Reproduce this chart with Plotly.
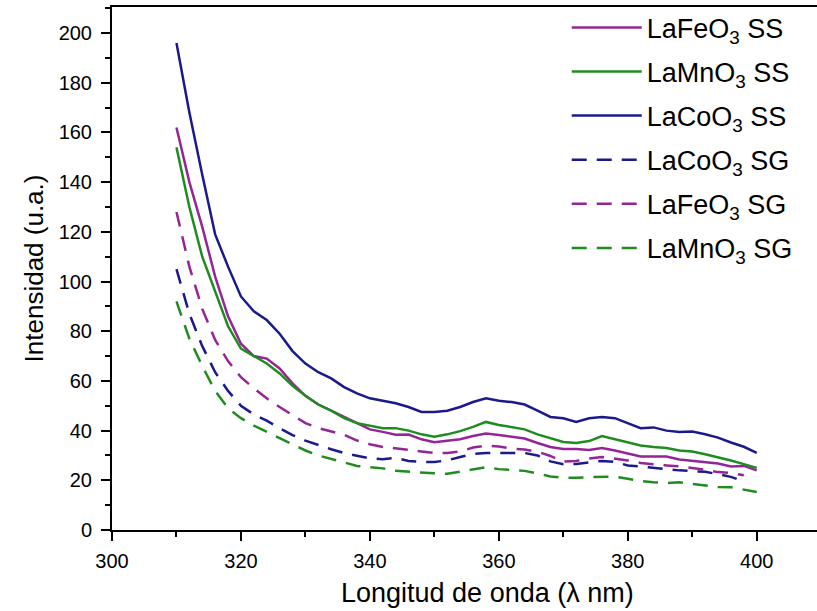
import plotly.graph_objects as go

wl = list(range(310, 401, 2))
wl_short = list(range(310, 399, 2))

lafeo3_ss = [162, 140, 122, 102, 86, 75, 70, 69, 65, 59, 54, 50.5, 48, 45.5, 43, 40.5,
             39.5, 38.3, 38.4, 36.5, 35.3, 36, 36.5, 37.8, 38.8, 38.2, 37.5, 36.8, 35,
             33.4, 32.6, 32.6, 32.2, 33, 32, 30.8, 29.6, 29.6, 29.6, 28.4, 27.9, 27.6,
             26.8, 25.6, 25.8, 24]
lamno3_ss = [154, 130, 110, 96, 82, 73, 70, 67, 63, 58, 54, 50.5, 48, 45, 43, 42, 41, 41,
             40, 38.5, 37.5, 38.5, 39.8, 41.5, 43.5, 42.3, 41.5, 40.5, 38.5, 37, 35.4, 35,
             35.8, 37.8, 36.6, 35.5, 34, 33.4, 33, 32, 31.6, 30.5, 29.3, 28, 26.5, 25]
lacoo3_ss = [196, 168, 143, 119, 106, 94, 88, 84.5, 79, 72, 67, 63.5, 61, 57.5, 55, 53,
             52, 51, 49.5, 47.5, 47.5, 48, 49.5, 51.5, 53, 52, 51.5, 50.5, 48, 45.5, 45,
             43.5, 45, 45.5, 45, 43, 41, 41.3, 40, 39.4, 39.6, 38.5, 37.2, 35.2, 33.5, 31]
lacoo3_sg = [105, 87, 74, 63.5, 56, 50, 46.5, 44, 41, 38.2, 36, 34.2, 32.5, 31, 29.8,
             28.8, 28.5, 29, 27.8, 27.4, 27.4, 28, 29.4, 30.6, 31, 31, 31, 31, 30, 27.6,
             26.5, 26.6, 27.2, 27.8, 27.4, 26, 25.6, 25.2, 24.5, 24, 23.8, 23.4, 22.5,
             21.4, 19.5]
lafeo3_sg = [128, 106, 89, 76.5, 68, 61.5, 57, 53, 49.5, 46.3, 43, 41, 39.5, 38.3, 36,
             34.5, 33.4, 33, 32.3, 31.6, 31, 31, 31.6, 33.2, 34, 33.6, 32.8, 32.4, 31.5,
             29.8, 27.5, 27.8, 28.8, 29.4, 28.8, 28, 27, 26.4, 26, 25.6, 25.1, 24.3, 23.3,
             23, 22]
lamno3_sg = [92, 77, 66, 56, 49, 45, 42, 39.5, 37.3, 34.5, 32, 30, 28.5, 27, 25.8, 25.3,
             24.8, 23.8, 23.4, 23.2, 22.8, 22.6, 23.6, 24.5, 25.3, 24.5, 24.3, 23.8, 22.8,
             21.5, 21.1, 21, 21.3, 21.4, 21.5, 20.6, 19.7, 19.2, 18.9, 19.2, 18.5, 17.9,
             17.3, 17.2, 16.2, 15.3]

PURPLE = "#952596"
GREEN = "#1F8C1F"
NAVY = "#1A1A8C"
DASH = "15px,10px"
LW = 2.5

series = [
    ("LaFeO<sub>3</sub> SS", wl, lafeo3_ss, PURPLE, "solid"),
    ("LaMnO<sub>3</sub> SS", wl, lamno3_ss, GREEN, "solid"),
    ("LaCoO<sub>3</sub> SS", wl, lacoo3_ss, NAVY, "solid"),
    ("LaCoO<sub>3</sub> SG", wl_short, lacoo3_sg, NAVY, DASH),
    ("LaFeO<sub>3</sub> SG", wl_short, lafeo3_sg, PURPLE, DASH),
    ("LaMnO<sub>3</sub> SG", wl, lamno3_sg, GREEN, DASH),
]

fig = go.Figure()
for i, (name, x, y, c, d) in enumerate(series):
    fig.add_trace(go.Scatter(x=x, y=y, mode="lines", name=name, legendgroup=f"g{i}",
                             line=dict(color=c, width=LW, dash=d)))

FONT = "Liberation Sans, Arial, sans-serif"
fig.update_layout(
    width=817, height=611,
    margin=dict(l=112, r=0, t=7, b=81),
    paper_bgcolor="white", plot_bgcolor="white",
    font=dict(family=FONT, color="black", size=20),
    legend=dict(x=0.645, y=1.007, xanchor="left", yanchor="top",
                font=dict(size=27, family=FONT), bgcolor="rgba(0,0,0,0)",
                itemwidth=70, tracegroupgap=6),
    showlegend=True,
    annotations=[dict(text="Longitud de onda (λ nm)", xref="paper", yref="paper",
                      x=0.533, y=-0.121, xanchor="center", yanchor="middle",
                      showarrow=False, font=dict(size=27, family=FONT))],
)
fig.update_xaxes(
    range=[300, 409.35], tickmode="linear", tick0=300, dtick=20,
    showline=True, linecolor="black", linewidth=2, mirror=True,
    ticks="outside", ticklen=9, tickwidth=2, tickcolor="black",
    minor=dict(ticks="outside", ticklen=5, dtick=10, tickwidth=2, tickcolor="black"),
    showgrid=False, zeroline=False,
    tickfont=dict(size=20, family=FONT), ticklabelstandoff=3,
)
fig.update_yaxes(
    range=[0, 210.5], tickmode="linear", tick0=0, dtick=20,
    showline=True, linecolor="black", linewidth=2, mirror=False,
    ticks="outside", ticklen=9, tickwidth=2, tickcolor="black",
    minor=dict(ticks="outside", ticklen=5, dtick=10, tickwidth=2, tickcolor="black"),
    showgrid=False, zeroline=False,
    tickfont=dict(size=20, family=FONT), ticklabelstandoff=5,
    title=dict(text="Intensidad (u.a.)", font=dict(size=26, family=FONT), standoff=8),
)

fig.write_html("out.html")
